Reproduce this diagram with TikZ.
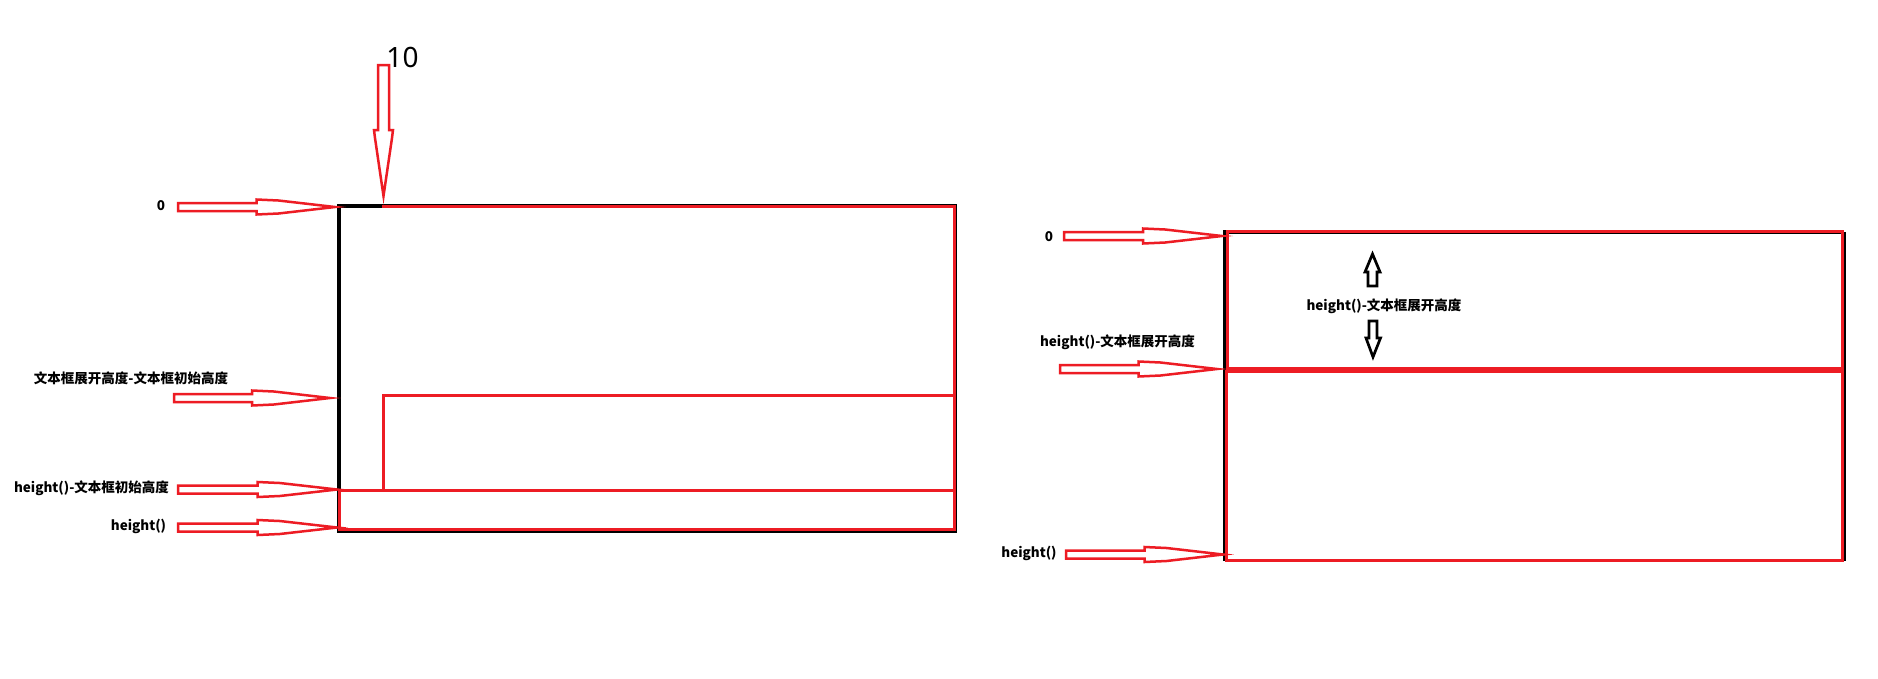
\documentclass[tikz,border=0pt]{standalone}
\usepackage{fontspec}
\setmainfont{Noto Sans}
\newfontfamily\cjk{Noto Sans CJK SC}
\definecolor{pred}{RGB}{237,28,36}
\tikzset{
  lbl/.style={font=\cjk\bfseries\fontsize{13.5}{16}\selectfont, inner sep=0pt},
  bignum/.style={font=\fontsize{28}{30}\selectfont, inner sep=0pt},
  redarrow/.style={draw=pred, line width=2.5pt},
  blackarrow/.style={draw=black, line width=2.7pt},
  blkline/.style={draw=black, line width=4pt},
  redline/.style={draw=pred, line width=3pt},
}
\newcommand{\RArrMk}[3]{%
  \pgfmathsetmacro{\arrHa}{#1+0.5*(#2-#1)}%
  \pgfmathsetmacro{\arrHb}{#1+0.64*(#2-#1)}%
  \draw[redarrow] ({#1},{#3-4}) -- (\arrHa,{#3-4}) -- (\arrHa,{#3-7.5}) -- (\arrHb,{#3-6.5})
    -- ({#2},{#3}) -- (\arrHb,{#3+6.5}) -- (\arrHa,{#3+7.5}) -- (\arrHa,{#3+4}) -- ({#1},{#3+4}) -- cycle;}
\begin{document}
\begin{tikzpicture}[x=1pt,y=-1pt]
\useasboundingbox (0,0) rectangle (1878,678);
\fill[white] (0,0) rectangle (1878,678);

% ---------- left box ----------
\draw[blkline] (338.5,206) rectangle (955,530.5);
\draw[redline] (382,206.5) -- (954.5,206.5) -- (954.5,529);
\draw[redline] (339.5,490.5) rectangle (954.5,529);
\draw[redline] (383,490.5) -- (383,395) -- (954.5,395);

% labels left
\node[lbl] (l0) at (161,206) {0};
\node[lbl] (l1) at (131,378) {文本框展开高度-文本框初始高度};
\node[lbl] (l2) at (91.5,488) {height()-文本框初始高度};
\node[lbl] (l3) at (138.5,526.5) {height()};
\node[bignum] (l10) at (402.5,57) {10};

% arrows left
\RArrMk{178}{335}{207}
\RArrMk{174}{330}{398}
\RArrMk{178}{337}{489.5}
\RArrMk{178}{337}{527.5}
\draw[redarrow] (378,65) -- (378,130) -- (374,130) -- (375,138) -- (383.5,196)
  -- (392,138) -- (393,130) -- (389,130) -- (389,65) -- cycle;

% ---------- right box ----------
\draw[black, line width=3pt] (1224.5,230) -- (1224.5,561);
\draw[black, line width=2pt] (1224.5,233) -- (1844.7,233) -- (1844.7,561);
\draw[redline] (1227.5,231) rectangle (1842,368);
\draw[redline] (1226.5,371) rectangle (1842,560);

% labels right
\node[lbl] (r0) at (1049,236.5) {0};
\node[lbl] (r1) at (1117.5,342) {height()-文本框展开高度};
\node[lbl] (r2) at (1384,306.5) {height()-文本框展开高度};
\node[lbl] (r3) at (1029,553) {height()};

% arrows right
\RArrMk{1064}{1222}{236}
\RArrMk{1060}{1217}{369}
\RArrMk{1066}{1223}{554.5}

% black up / down arrows
\draw[blackarrow] (1372.5,254) -- (1380,272) -- (1377,272) -- (1377,286) -- (1368,286)
  -- (1368,272) -- (1365,272) -- cycle;
\draw[blackarrow] (1369,321) -- (1377,321) -- (1377,338) -- (1380.5,338) -- (1373,357)
  -- (1366,338) -- (1369,338) -- cycle;
\end{tikzpicture}
\end{document}
